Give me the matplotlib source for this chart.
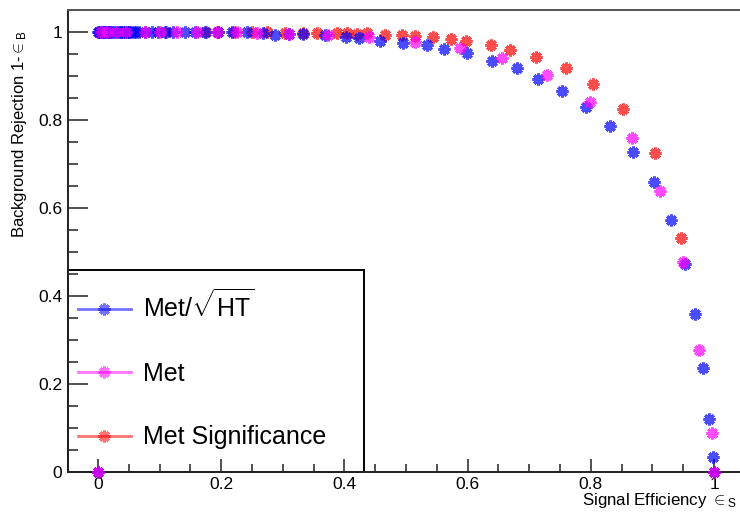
import matplotlib
matplotlib.use("Agg")
import matplotlib.pyplot as plt
from matplotlib.ticker import MultipleLocator, FuncFormatter
from matplotlib.lines import Line2D
from matplotlib.patches import Rectangle

plt.rcParams['font.family'] = ['Liberation Sans', 'DejaVu Sans']
plt.rcParams['mathtext.fontset'] = 'custom'
plt.rcParams['mathtext.rm'] = 'Liberation Sans'
plt.rcParams['mathtext.it'] = 'Liberation Sans:italic'

# ROC points (signal eff, background rejection)
met_ht_eff = [0.0, 0.0, 0.002, 0.004, 0.006, 0.008, 0.010, 0.012, 0.014, 0.016, 0.018,
              0.020, 0.023, 0.026, 0.029, 0.032, 0.035, 0.038, 0.041, 0.044, 0.047,
              0.050, 0.054, 0.058, 0.062, 0.066, 0.076, 0.088, 0.097, 0.109, 0.122,
              0.141, 0.157, 0.174, 0.195, 0.218, 0.242, 0.268, 0.287, 0.310, 0.333,
              0.369, 0.403, 0.424, 0.458, 0.495, 0.534, 0.562, 0.599, 0.640, 0.680,
              0.714, 0.753, 0.792, 0.831, 0.869, 0.903, 0.930, 0.953, 0.969, 0.982,
              0.992, 0.998, 1.0]
met_ht_rej = [0.0, 1.0, 1.0, 1.0, 1.0, 1.0, 1.0, 1.0, 1.0, 1.0, 1.0,
              1.0, 1.0, 1.0, 1.0, 1.0, 1.0, 1.0, 1.0, 1.0, 1.0,
              1.0, 1.0, 1.0, 1.0, 1.0, 1.0, 1.0, 1.0, 1.0, 1.0,
              1.0, 1.0, 1.0, 0.999, 0.999, 0.999, 0.998, 0.993, 0.996, 0.996,
              0.993, 0.989, 0.986, 0.979, 0.975, 0.970, 0.961, 0.952, 0.934, 0.918,
              0.893, 0.866, 0.829, 0.786, 0.727, 0.659, 0.572, 0.473, 0.358, 0.236,
              0.120, 0.033, 0.0]

met_eff = [0.0, 0.005, 0.015, 0.030, 0.045, 0.076, 0.100, 0.128, 0.160, 0.193,
           0.225, 0.258, 0.310, 0.373, 0.440, 0.515, 0.588, 0.656, 0.729, 0.799,
           0.867, 0.912, 0.950, 0.976, 0.997, 1.0]
met_rej = [0.0, 1.0, 1.0, 1.0, 1.0, 1.0, 1.0, 1.0, 0.999, 0.999,
           0.999, 0.998, 0.9955, 0.993, 0.989, 0.977, 0.964, 0.941, 0.902, 0.841,
           0.759, 0.638, 0.477, 0.276, 0.088, 0.0]

sig_eff = [0.0, 0.050, 0.110, 0.175, 0.195, 0.220, 0.250, 0.274, 0.304, 0.333,
           0.356, 0.388, 0.404, 0.420, 0.437, 0.466, 0.494, 0.515, 0.544, 0.573,
           0.597, 0.638, 0.669, 0.711, 0.760, 0.804, 0.852, 0.904, 0.946, 1.0]
sig_rej = [0.0, 1.0, 1.0, 1.0, 1.0, 1.0, 1.0, 1.0, 0.998, 0.998,
           0.998, 0.998, 0.998, 0.9955, 0.998, 0.993, 0.993, 0.991, 0.989, 0.984,
           0.979, 0.970, 0.959, 0.943, 0.918, 0.882, 0.825, 0.725, 0.531, 0.0]

labels = [r'Met/$\sqrt{\mathrm{HT}}$', 'Met', 'Met Significance']
colors = ['#0000ff', '#ff00ff', '#ff0000']

fig = plt.figure(figsize=(7.4, 5.12), dpi=100)
ax = fig.add_axes([0.0919, 0.0787, 0.9149, 0.9018])

star = (8, 2, 0)
for xs, ys, c in [(sig_eff, sig_rej, colors[2]), (met_ht_eff, met_ht_rej, colors[0]),
                  (met_eff, met_rej, colors[1])]:
    ax.plot(xs, ys, linestyle='none', marker=star, ms=8.5, mew=2.2, color=c,
            alpha=0.7, clip_on=False, zorder=3)

ax.set_xlim(-0.0487, 1.0503)
ax.set_ylim(0, 1.05)

ax.xaxis.set_major_locator(MultipleLocator(0.2))
ax.xaxis.set_minor_locator(MultipleLocator(0.05))
ax.yaxis.set_major_locator(MultipleLocator(0.2))
ax.yaxis.set_minor_locator(MultipleLocator(0.05))
fmt = FuncFormatter(lambda v, p: '%g' % round(v, 2))
ax.xaxis.set_major_formatter(fmt)
ax.yaxis.set_major_formatter(fmt)

ax.tick_params(axis='both', which='both', direction='in', colors='#333333',
               labelcolor='black', labelsize=12.5, width=1.2)
ax.tick_params(axis='y', which='major', length=14.5, pad=4)
ax.tick_params(axis='y', which='minor', length=7.2)
ax.tick_params(axis='x', which='major', length=9.5, pad=4)
ax.tick_params(axis='x', which='minor', length=5.5)

ax.spines['right'].set_visible(False)
ax.spines['top'].set_color('#555555')
for s in ['top', 'left', 'bottom']:
    ax.spines[s].set_linewidth(1.4)
ax.spines['left'].set_color('#222222')
ax.spines['bottom'].set_color('#222222')

# legend box
ax.add_patch(Rectangle((0, 0), 0.437, 0.437, transform=ax.transAxes, fill=False,
                       edgecolor='black', linewidth=1.4, zorder=2, clip_on=False))
handles = [Line2D([], [], color=c, alpha=0.55, lw=2, marker=star, ms=8.5, mew=2.2,
                  markeredgecolor=c) for c in colors]
leg = ax.legend(handles, labels, loc='center left', bbox_to_anchor=(0.0148, 0.2213),
                frameon=False, fontsize=18, handlelength=2.1, handletextpad=0.5,
                labelspacing=1.58, borderpad=0, borderaxespad=0, numpoints=1)

fig.text(20 / 740, 1 - 30 / 512, r'Background Rejection 1-$\in_{\mathrm{B}}$', rotation=90,
         ha='center', va='top', fontsize=12)
fig.text(737 / 740, 1 - 505 / 512, r'Signal Efficiency $\in_{\mathrm{S}}$', ha='right',
         va='baseline', fontsize=12.2)

fig.savefig('out.png', dpi=100)
